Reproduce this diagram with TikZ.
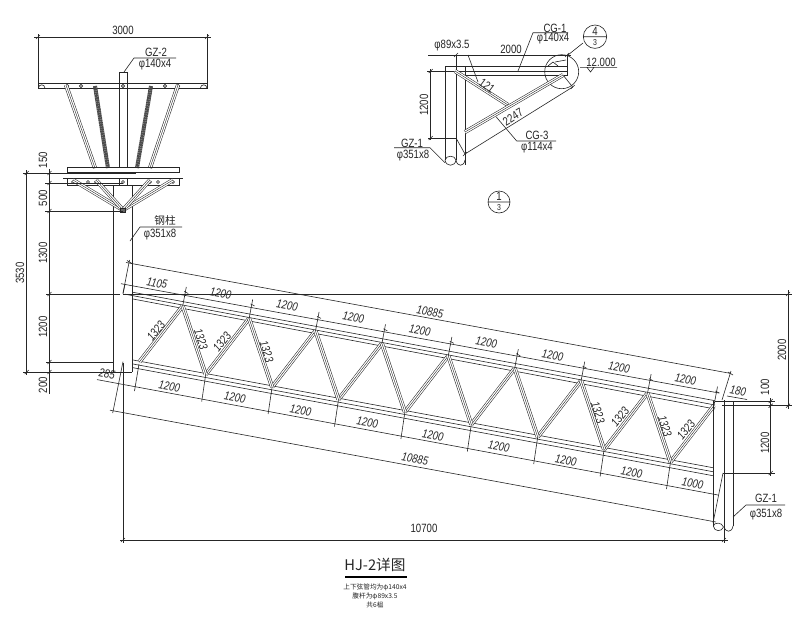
\documentclass[tikz,border=0pt]{standalone}
\usepackage{fontspec}
\usetikzlibrary{calc}
\setmainfont[FakeStretch=0.8]{Liberation Sans}
\newfontfamily\cjkfont{Noto Sans CJK SC}
\tikzset{
  ln/.style={line width=.45pt,black!85},
  tube/.style={line width=.4pt,double,double distance=2.2pt,black!85},
  darktube/.style={line width=3pt,black!70,dash pattern=on 1.4pt off .3pt},
  lab/.style={font=\fontsize{9}{10}\selectfont,inner sep=0pt,text=black!85},
  slab/.style={lab,font=\fontsize{9}{10}\selectfont\itshape},
  tinylab/.style={lab,font=\fontsize{4.8}{5.5}\selectfont},
  ring/.style={ln,fill=white},
}
\newcommand\lab[4][]{\node[lab,#1] (#2) at (#3) {#4};}
\newcommand\tubeline[2]{\draw[tube] (#1)--(#2); \draw[ln,line width=.3pt] (#1)--(#2);}
\begin{document}
\begin{tikzpicture}[x=.75pt,y=-.75pt]
\useasboundingbox (0,0) rectangle (800,640);
\fill[white] (0,0) rectangle (800,640);
% ---------- section view, top left
\begin{scope}[ln]
\draw (38,34)--(38,84) (207,34)--(207,84) (34,37)--(211,37);
\draw (36,39)--(40,35) (205,39)--(209,35);
\draw (38,83.5)--(207,83.5)--(207,88)--(38,88)--cycle;
\draw (119.5,72)--(127,72)--(127,167) (119.5,72)--(119.5,167);
\draw (38.5,88) arc (180:360:3.2) (200.5,88) arc (180:360:3.2);
\foreach \p in {67,81,123,165,178} \draw[ring] (\p,86) circle (1.6);
\end{scope}
\draw[ln] (124,72)--(134,58)--(176,58);
\lab{gz2a}{156,52}{GZ-2}
\lab{gz2b}{155,65}{φ140x4}
\lab[rotate=0]{d3000}{123,30}{3000}
\foreach \n/\a/\b in {a/66/95,b/178/150} {
  \coordinate (o\n1) at (\a,85); \coordinate (o\n2) at (\b,168);
  \tubeline{o\n1}{o\n2}
}
\coordinate (k1) at (95,86); \coordinate (k2) at (108,168);
\coordinate (k3) at (151,86); \coordinate (k4) at (137,168);
\draw[darktube] (k1)--(k2); \draw[darktube] (k3)--(k4);
\begin{scope}[ln]
\draw (67,167)--(179,167)--(179,172.5)--(67,172.5)--cycle;
\draw[line width=.9pt] (110,173)--(136,173);
\draw (63,178)--(183,178);
\draw (67,178)--(67,185)--(179,185)--(179,178);
\draw (113.5,185)--(113.5,372) (132,185)--(132,372) (119.5,178)--(119.5,185) (127,178)--(127,185);
\foreach \p in {73,88,96,123,150,158,173} \draw[ring] (\p,182) circle (1.5);
\end{scope}
\coordinate (v0) at (123,210);
\foreach \n/\a in {a/73,b/173,c/96,d/150} {
  \coordinate (v\n) at (\a,180);
  \tubeline{v\n}{v0}
}
\draw[ln,fill=black!60] (120.5,208) rectangle (125.5,212.5);
% left dimensions
\begin{scope}[ln]
\draw (26.7,170)--(26.7,375) (49.5,169)--(49.5,394);
\draw (23,173)--(132,173) (45,183)--(123,183) (45,211)--(123,211);
\draw (46,294)--(120,294) (123,294)--(792,294);
\draw (46,362)--(113.5,362) (23,372)--(132,372);
\foreach \p in {173,183,211,294,362,372} \draw (47.5,\p+2)--(51.5,\p-2);
\draw (24.7,374)--(28.7,370) (24.7,175)--(28.7,171);
\end{scope}
\lab[rotate=90]{d150}{43,160}{150}
\lab[rotate=90]{d500}{43,198}{500}
\lab[rotate=90]{d1300}{43,253}{1300}
\lab[rotate=90]{d1200l}{43,327}{1200}
\lab[rotate=90]{d200}{43,385}{200}
\lab[rotate=90]{d3530}{20,273}{3530}
\draw[ln] (130,241)--(140,227)--(182,227);
\node[lab,font=\fontsize{8}{9}\cjkfont] (gzz) at (165,220) {钢柱};
\lab{gzp}{160,235}{φ351x8}
% ---------- truss
\begin{scope}[ln]
\draw (133,292.3)--(715,400.7) (125,294.2)--(715,405) (133,299)--(715,409);
\draw (133,360)--(713,467.7) (133,364)--(713,471.7) (133,367.7)--(713,475.7);
\end{scope}
\foreach \i in {0,...,8} {
  \pgfmathsetmacro\tx{182.7+66.4*\i}\pgfmathsetmacro\ty{306+12.45*\i}
  \pgfmathsetmacro\bx{139.3+66.4*\i}\pgfmathsetmacro\by{362+12.5*\i}
  \coordinate (T\i) at (\tx,\ty);
  \coordinate (B\i) at (\bx,\by);
}
\foreach \i in {0,...,8} { \tubeline{B\i}{T\i} }
\foreach \i/\j in {0/1,1/2,2/3,3/4,4/5,5/6,6/7,7/8} { \tubeline{T\i}{B\j} }
% top dimension chain
\draw[ln] (121,283.7)--(719,393);
\draw[ln] (125,284.5)--(123,294);
\foreach \i in {0,...,8} {
  \draw[ln] (T\i) -- ++(3.6,-19);
  \draw[ln] ($(T\i)+(1.5,-14.5)$) -- ++(4,2) ;
}
\draw[ln] (126,262.5)--(730,373.3);
\draw[ln] (123,293)--(129.5,260) (722,400)--(731,371);
\draw[ln] (127,260.5)--(132,263.5) (728,372)--(733,375);
% bottom dimension chain
\draw[ln] (97,379.6)--(718,495);
\foreach \i in {1,...,8} { \draw[ln] (B\i) -- ++(-4,27); }
\draw[ln] (139,364)--(134.5,391);
\draw[ln] (723,473)--(713,523);
\draw[ln] (123,361.7)--(112.7,413);
\draw[ln] (110,410.2)--(716,522);
\draw[ln] (123,363)--(123,543);
\draw[ln] (120,540)--(728,540);
\draw[ln] (724,400)--(724,543);
\draw[ln] (121,542)--(125,538) (722,542)--(726,538);
% labels on truss
\lab[slab,rotate=-10.6]{t0}{157,283}{1105}
\foreach \i in {0,...,7} {
  \pgfmathsetmacro\lx{220.7+66.4*\i}\pgfmathsetmacro\ly{293+12.4*\i}
  \node[slab,rotate=-10.6] (u\i) at (\lx,\ly) {1200};
}
\foreach \i/\x/\y/\t in {0/169.3/386/1200,1/235/397.7/1200,2/300.7/410/1200,3/367.3/422.7/1200,4/433/435/1200,5/499/446.7/1200,6/566/460/1200,7/631.7/472.7/1200,8/692.7/483.3/1000} {
  \node[slab,rotate=-10.6] (w\i) at (\x,\y) {\t};
}
\lab[slab,rotate=-10.6]{o1}{430,312}{10885}
\lab[slab,rotate=-10.6]{o2}{415,459}{10885}
\lab[slab,rotate=-10.6]{d285}{107,374}{285}
\lab[slab,rotate=-10.6]{d180}{738,391}{180}
\draw[ln] (727,396)--(747,399.5);
\foreach \n/\x/\y/\r in {a/156/330.7/52,b/201/339/-72,c/222/342/52,d/266.7/351.7/-72,e/598/412.7/-72,f/620/417/52,g/665/426/-72,h/686/430/52} {
  \node[slab,rotate=\r] (m\n) at (\x,\y) {1323};
}
\lab{d10700}{424,528}{10700}
% ---------- right end column
\begin{scope}[ln]
\draw (713.3,400.7)--(713.3,526) (733,401)--(733,526);
\draw (713.3,526) .. controls (714,532) and (722,532) .. (723.5,527);
\draw (713.3,526) .. controls (714,522) and (722,522) .. (723.5,527);
\draw (724,526) .. controls (725,533) and (732,533) .. (733,526);
\draw (715,401)--(775,401) (722,405.7)--(792,405.7) (723,473)--(775,473);
\draw (770.7,398)--(770.7,476) (788,290)--(788,409);
\foreach \p in {401,405.7,473} \draw (768.7,\p+2)--(772.7,\p-2);
\draw (786,296)--(790,292) (786,407.7)--(790,403.7);
\draw (733,517)--(746,505)--(785,505);
\end{scope}
\lab[rotate=90]{d100}{765,387}{100}
\lab[rotate=90]{d1200r}{765,443}{1200}
\lab[rotate=90]{d2000r}{782,350}{2000}
\lab{gz1a}{766,498}{GZ-1}
\lab{gz1b}{766,515}{φ351x8}
% ---------- detail view, top right
\begin{scope}[ln]
\draw (445,66)--(465,66) (445,66)--(445,160) (456,55)--(456,160) (465,66)--(465,165);
\draw (445,160) .. controls (446,167) and (455,167) .. (456,160);
\draw (445,160) .. controls (446,155) and (455,155) .. (456,160);
\draw (456,160) .. controls (457,167) and (464,167) .. (465,160);
\draw (465,66)--(567,66) (427,71)--(567,71) (465,75.7)--(567,75.7) (567,55)--(567,75.7);
\draw (428,55)--(571,55);
\draw (565,57)--(569,53) (454,57)--(458,53);
\draw (561.7,71.7) circle (17);
\draw (430.7,69)--(430.7,140) (428,138)--(456,138);
\draw (428.7,73)--(432.7,69) (428.7,140)--(432.7,136);
\draw (465,154)--(572.7,87);
\draw (456,138)--(465,154) (572.7,87)--(563,75);
\draw (463,156)--(467,152) (570.7,89)--(574.7,85);
\draw (468,55)--(478,82);
\draw (518,71)--(533,32.7)--(568,32.7);
\draw (496,116.7)--(516.7,141)--(556,141);
\draw (394,147.7)--(430,147.7)--(445,162.7);
\draw (583,43)--(568,55);
\draw (580,67.3)--(617,67.3) (587,67.3)--(594,67.3)--(590.5,72)--cycle;
\draw (548,66)--(553,62)--(558,66) (555,62)--(566,60);
\end{scope}
\coordinate (ca1) at (455,71); \coordinate (ca2) at (508,105);
\coordinate (cb1) at (465,132); \coordinate (cb2) at (563,75);
\tubeline{ca1}{ca2}
\tubeline{cb1}{cb2}
\lab{dd1}{452,46}{φ89x3.5}
\lab{dd2}{511,49}{2000}
\lab{dd3}{555,28}{CG-1}
\lab{dd4}{553,39}{φ140x4}
\lab{dd5}{601,62}{12.000}
\lab[rotate=90]{dd6}{424,105}{1200}
\lab[rotate=-37]{dd7}{487,86}{121}
\lab[rotate=32]{dd8}{513,117}{2247}
\lab{dd9}{537,135}{CG-3}
\lab{dd10}{537,148}{φ114x4}
\lab{dd11}{412,143}{GZ-1}
\lab{dd12}{413,156}{φ351x8}
\draw[ln] (595,36.7) circle (11.7) (583.3,36.7)--(606.7,36.7);
\lab{c1}{595,31}{4}
\lab[font=\fontsize{6.5}{7}\selectfont]{c2}{595,42.5}{3}
\draw[ln] (499,202) circle (11) (488,202)--(510,202);
\lab{c3}{499,196.5}{1}
\lab[font=\fontsize{6.5}{7}\selectfont]{c4}{499,207.5}{3}
% ---------- title
\node[lab,font=\fontsize{11}{12}\cjkfont] (title) at (375,565) {HJ-2详图};
\draw[line width=1.4pt,black] (345,577)--(407,577);
\node[tinylab,font=\fontsize{5}{6}\cjkfont] (n1) at (375,587) {上下弦管均为φ140x4};
\node[tinylab,font=\fontsize{5}{6}\cjkfont] (n2) at (375,596) {腹杆为φ89x3.5};
\node[tinylab,font=\fontsize{5}{6}\cjkfont] (n3) at (375,605) {共6榀};
\end{tikzpicture}
\end{document}
